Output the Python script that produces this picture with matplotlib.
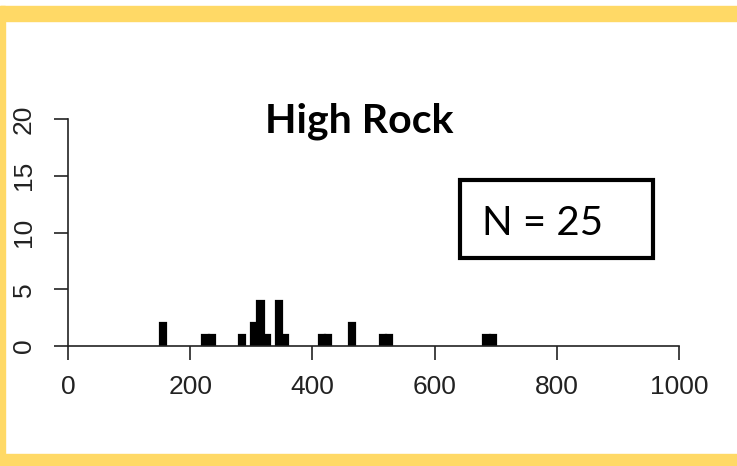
import matplotlib.pyplot as plt
from matplotlib.patches import Rectangle

# Histogram counts, bins of width 10
bin_starts = [150, 220, 230, 280, 300, 310, 320, 340, 350, 410, 420, 460, 510, 520, 680, 690]
counts = [2, 1, 1, 1, 2, 4, 1, 4, 1, 1, 1, 2, 1, 1, 1, 1]
bin_width = 10

x_ticks = [0, 200, 400, 600, 800, 1000]
y_ticks = [0, 5, 10, 15, 20]
title = "High Rock"
n_label = "N = 25"

W, H = 737, 466
fig = plt.figure(figsize=(W / 100, H / 100), dpi=100)
fig.patch.set_facecolor("white")


def fx(px):
    return px / W


def fy(py):
    return (H - py) / H


# yellow frame (cropped on the right)
gold = "#FFD966"
fig.patches.append(Rectangle((0, fy(21)), 1, fy(6) - fy(21), transform=fig.transFigure,
                             color=gold, zorder=0))
fig.patches.append(Rectangle((0, 0), fx(5), 1 - 6 / H, transform=fig.transFigure,
                             color=gold, zorder=0))
fig.patches.append(Rectangle((0, 0), 1, 12 / H, transform=fig.transFigure,
                             color=gold, zorder=0))

ax = fig.add_axes([fx(68), fy(346), fx(679) - fx(68), fy(119) - fy(346)])
ax.bar(bin_starts, counts, width=bin_width, align="edge",
       color="black", edgecolor="black", linewidth=1.6)

ax.set_xlim(0, 1000)
ax.set_ylim(0, 20)
ax.set_xticks(x_ticks)
ax.set_yticks(y_ticks)
for side in ["top", "right"]:
    ax.spines[side].set_visible(False)
for side in ["left", "bottom"]:
    ax.spines[side].set_color("#222222")
    ax.spines[side].set_linewidth(1.2)

ax.tick_params(axis="both", direction="out", length=10, width=1.2, color="#222222",
               labelsize=19, labelcolor="#222222")
ax.tick_params(axis="x", pad=11)
ax.tick_params(axis="y", pad=13)
for lbl in ax.get_xticklabels() + ax.get_yticklabels():
    lbl.set_fontfamily("Liberation Sans")
for lbl in ax.get_yticklabels():
    lbl.set_rotation(90)
    lbl.set_va("center")

fig.text(fx(359), fy(133), title, ha="center", va="baseline",
         fontsize=29.5, fontweight="bold", family="Lato")

fig.patches.append(Rectangle((fx(460), fy(258)), fx(653) - fx(460), fy(180) - fy(258),
                             transform=fig.transFigure, fill=False,
                             edgecolor="black", linewidth=3))
fig.text(fx(482), fy(235), n_label, ha="left", va="baseline",
         fontsize=29, family="Lato")

fig.savefig("out.png", dpi=100)
